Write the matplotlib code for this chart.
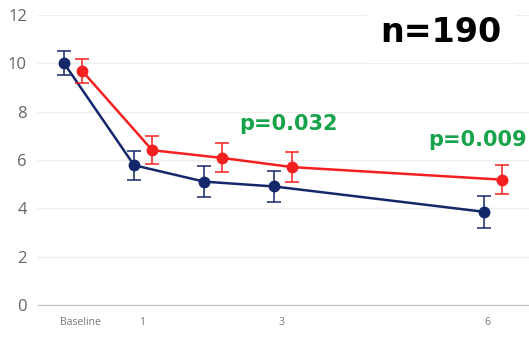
import matplotlib.pyplot as plt

# months after baseline
months = [0, 1, 2, 3, 6]
blue_mean = [10.0, 5.78, 5.1, 4.9, 3.85]
blue_err = [0.5, 0.6, 0.65, 0.63, 0.66]
red_mean = [9.68, 6.4, 6.08, 5.7, 5.18]
red_err = [0.5, 0.57, 0.6, 0.62, 0.6]
tick_labels = ['Baseline', '1', '3', '6']
tick_pos = [0.24, 1.12, 3.1, 6.04]
p_labels = ['p=0.032', 'p=0.009']
p_months = [3.21, 5.9]
p_heights = [7.5, 6.83]

navy = '#15276b'
red = '#f41f1f'
green = '#16a34a'
offset = 0.26  # red series sits a little right of the blue one
fam = ['Open Sans', 'DejaVu Sans']

fig = plt.figure(figsize=(5.29, 3.38), dpi=100)
ax = fig.add_axes([0.072, 0.098, 0.928, 0.858])

ax.errorbar(months, blue_mean, yerr=blue_err, color=navy, lw=1.8, marker='o', ms=7.5,
            capsize=5, elinewidth=1.1, capthick=1.1, zorder=3, clip_on=False)
ax.errorbar([m + offset for m in months], red_mean, yerr=red_err, color=red, lw=1.8,
            marker='o', ms=7.5, capsize=5, elinewidth=1.1, capthick=1.1, zorder=4, clip_on=False)

ax.set_xlim(-0.37, 6.64)
ax.set_ylim(0, 12)
ax.set_yticks(range(0, 13, 2))
ax.set_xticks(tick_pos)
ax.set_xticklabels(tick_labels, fontsize=7.5, color='#777777', family=fam)
ax.tick_params(axis='y', length=0, pad=8, labelsize=12, labelcolor='#666666')
ax.tick_params(axis='x', length=0, pad=9)
for lbl in ax.get_yticklabels():
    lbl.set_family(fam)

ax.grid(axis='y', color='#eeeeee', lw=1)
ax.set_axisbelow(True)
for s in ['top', 'right', 'left']:
    ax.spines[s].set_visible(False)
ax.spines['bottom'].set_color('#bbbbbb')

for lab, m, h in zip(p_labels, p_months, p_heights):
    ax.text(m, h, lab, color=green, fontsize=15, fontweight='bold',
            ha='center', va='center', family='DejaVu Sans')

fig.text(0.834, 0.905, 'n=190', fontsize=24, fontweight='bold', ha='center', va='center',
         family='DejaVu Sans', bbox=dict(facecolor='white', edgecolor='none', pad=10))

fig.savefig('out.png', dpi=100)
